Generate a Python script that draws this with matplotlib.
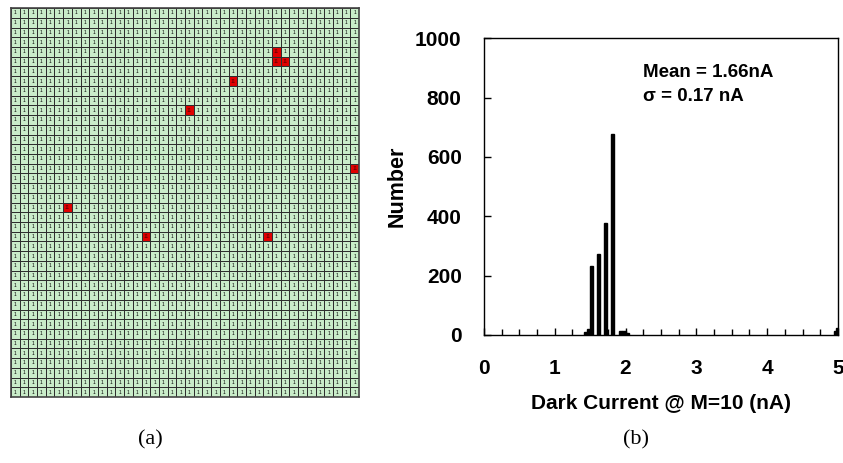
import numpy as np
import matplotlib.pyplot as plt
from matplotlib.colors import ListedColormap

# pixel map (a): 40 x 40 array, failed pixels as (row, col)
n_rows = 40
n_cols = 40
bad_pixels = [(4, 30), (5, 30), (5, 31), (7, 25), (10, 20),
              (16, 39), (20, 6), (23, 15), (23, 29)]

# histogram (b)
current = [1.43, 1.48, 1.52, 1.62, 1.72, 1.82, 1.93, 1.98, 2.02, 4.96, 4.99]
counts = [10, 20, 233, 273, 377, 677, 15, 12, 5, 15, 22]
mean_text = 'Mean = 1.66nA'
sigma_text = '\u03c3 = 0.17 nA'

plt.rcParams['font.family'] = ['Liberation Sans', 'DejaVu Sans']

fig = plt.figure(figsize=(8.43, 4.63), dpi=100)

# ---- (a) pixel map
ax1 = fig.add_axes([0.013, 0.1425, 0.413, 0.840])
status = np.ones((n_rows, n_cols))
for r, c in bad_pixels:
    status[r, c] = 0
cmap = ListedColormap(['#e00000', '#c9ecc9'])
ax1.pcolormesh(np.arange(n_cols + 1), np.arange(n_rows + 1), status,
               cmap=cmap, vmin=0, vmax=1, edgecolors='#2e2e2e', linewidth=0.7)
for r in range(n_rows):
    for c in range(n_cols):
        good = status[r, c] == 1
        ax1.text(c + 0.5, r + 0.5, '1' if good else '11', ha='center', va='center',
                 fontsize=3.5, color='black' if good else '#5a0000')
ax1.set_xlim(0, n_cols)
ax1.set_ylim(n_rows, 0)
ax1.set_xticks([])
ax1.set_yticks([])
for s in ax1.spines.values():
    s.set_color('#444444')
    s.set_linewidth(1.2)

# ---- (b) dark current histogram
ax2 = fig.add_axes([0.574, 0.2765, 0.420, 0.641])
ax2.bar(current, counts, width=0.045, color='black', edgecolor='black')
ax2.set_xlim(0, 5)
ax2.set_ylim(0, 1000)
ax2.set_xticks(np.arange(0, 6, 1))
ax2.set_xticks(np.arange(0, 5.01, 0.25), minor=True)
ax2.set_yticks(np.arange(0, 1001, 200))
ax2.tick_params(axis='both', direction='in', labelsize=15, width=1)
ax2.tick_params(axis='y', length=5, pad=16)
ax2.tick_params(axis='x', which='major', length=5, pad=17)
ax2.tick_params(axis='x', which='minor', length=4, direction='in', width=1)
for lab in ax2.get_xticklabels() + ax2.get_yticklabels():
    lab.set_fontweight('bold')
for s in ax2.spines.values():
    s.set_linewidth(1.0)
ax2.set_xlabel('Dark Current @ M=10 (nA)', fontsize=15, fontweight='bold', labelpad=12)
ax2.set_ylabel('Number', fontsize=15.5, fontweight='bold', labelpad=5)
ax2.text(2.25, 885, mean_text, fontsize=13.5, fontweight='bold', va='center')
ax2.text(2.25, 805, sigma_text, fontsize=13.5, fontweight='bold', va='center')

fig.text(0.178, 0.05, '(a)', fontsize=16, family='Liberation Serif', ha='center', va='center')
fig.text(0.755, 0.05, '(b)', fontsize=16, family='Liberation Serif', ha='center', va='center')

fig.savefig('out.png', dpi=100)
